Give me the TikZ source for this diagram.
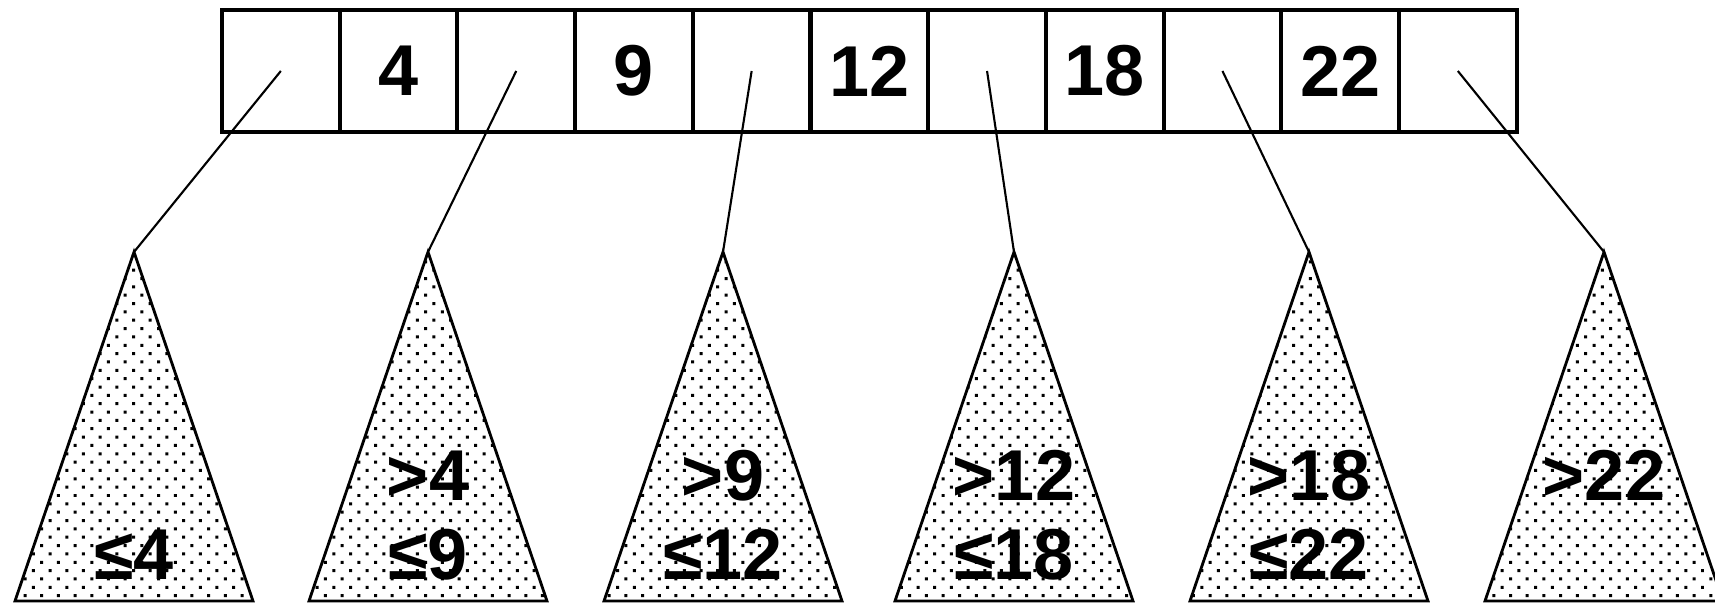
\documentclass[tikz,border=0pt]{standalone}
\usepackage{fontspec}
\setmainfont{Liberation Sans}
\usetikzlibrary{patterns.meta}

\tikzdeclarepattern{
  name=stipple,
  type=uncolored,
  bottom left={(-1pt,-1pt)},
  top right={(6pt,6pt)},
  tile size={(9.5pt,9.5pt)},
  code={
    \pgfpathrectangle{\pgfqpoint{-0.85pt}{-0.85pt}}{\pgfqpoint{1.7pt}{1.7pt}}
    \pgfpathrectangle{\pgfqpoint{3.9pt}{3.9pt}}{\pgfqpoint{1.7pt}{1.7pt}}
    \pgfusepath{fill}
  }
}

\begin{document}
\begin{tikzpicture}[x=0.02cm, y=0.02cm,
  cell/.style={draw, line width=2.3pt, minimum width=2.354cm, minimum height=2.44cm,
    inner sep=0pt, font=\fontsize{41}{48}\selectfont\bfseries},
  subtree/.style={draw, line width=1.6pt, pattern=stipple, pattern color=black},
  bound/.style={anchor=base, inner sep=0pt, font=\fontsize{41}{48}\selectfont\bfseries},
  link/.style={line width=1.2pt}]
  \useasboundingbox (0,0) rectangle (1715,604);
  % Subtrees below the node
  \foreach \ax/\up/\lo [count=\k] in {134/{}/{≤4}, 428/{>4}/{≤9}, 723/{>9}/{≤12},
      1014/{>12}/{≤18}, 1309/{>18}/{≤22}, 1604/{>22}/{}} {
    \coordinate (a\k) at (\ax,352);
    \draw[subtree] (a\k) -- ++(-119,-349) -- ++(238,0) -- cycle;
    \node[bound] (g\k) at (\ax,103) {\up};
    \node[bound] (l\k) at (\ax,24) {\lo};
  }
  % Node with keys and pointer cells
  \foreach \lab [count=\i from 0] in {{},4,{},9,{},12,{},18,{},22,{}} {
    \node[cell] (c\i) at ({222+117.7*(\i+0.5)},533) {\lab};
  }
  % Child pointers
  \foreach \k in {1,...,6} {
    \pgfmathtruncatemacro{\i}{2*(\k-1)}
    \draw[link] (c\i.center) -- (a\k);
  }
\end{tikzpicture}
\end{document}
